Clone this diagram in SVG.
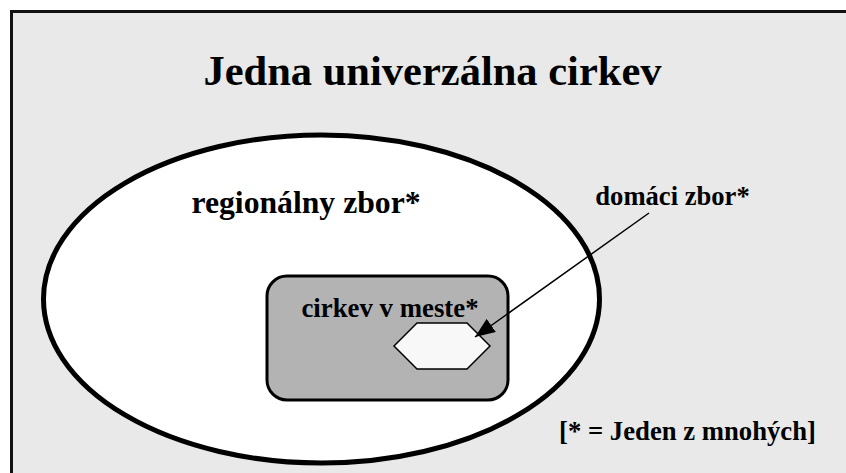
<svg xmlns="http://www.w3.org/2000/svg" width="846" height="473" viewBox="0 0 846 473">
<defs>
<style>
text{font-family:"Liberation Serif","Times New Roman",serif;font-weight:bold;fill:#000}
</style>
<marker id="ah" viewBox="0 0 20 16" refX="20" refY="8" markerWidth="20" markerHeight="16" markerUnits="userSpaceOnUse" orient="auto">
<path d="M0,0 L20,8 L0,16 Z" fill="#000"/>
</marker>
</defs>
<rect x="0" y="0" width="846" height="473" fill="#fff"/>
<g id="frame">
<rect x="11.5" y="11.5" width="850" height="480" fill="#e9e9e9" stroke="#111" stroke-width="3"/>
<text x="432.5" y="85" font-size="42.5" text-anchor="middle">Jedna univerzálna cirkev</text>
</g>
<g id="regional">
<ellipse cx="321.5" cy="299" rx="278" ry="164" fill="#fff" stroke="#000" stroke-width="5"/>
<text x="306" y="213" font-size="31.7" text-anchor="middle">regionálny zbor*</text>
</g>
<g id="city">
<rect x="267" y="276" width="241" height="124" rx="20" ry="20" fill="#b3b3b3" stroke="#000" stroke-width="3"/>
<text x="390" y="317" font-size="26.8" text-anchor="middle">cirkev v meste*</text>
</g>
<g id="house">
<polygon points="394,346 417,323 467,323 490,346 467,369 417,369" fill="#f8f8f8" stroke="#000" stroke-width="1.5"/>
</g>
<g id="house-label">
<text x="672.5" y="205" font-size="26.6" text-anchor="middle">domáci zbor*</text>
</g>
<g id="note">
<text x="687.5" y="440" font-size="26.7" text-anchor="middle">[* = Jeden z mnohých]</text>
</g>
<g id="connectors">
<line x1="649" y1="213" x2="475" y2="337" stroke="#000" stroke-width="1.5" marker-end="url(#ah)"/>
</g>
</svg>
